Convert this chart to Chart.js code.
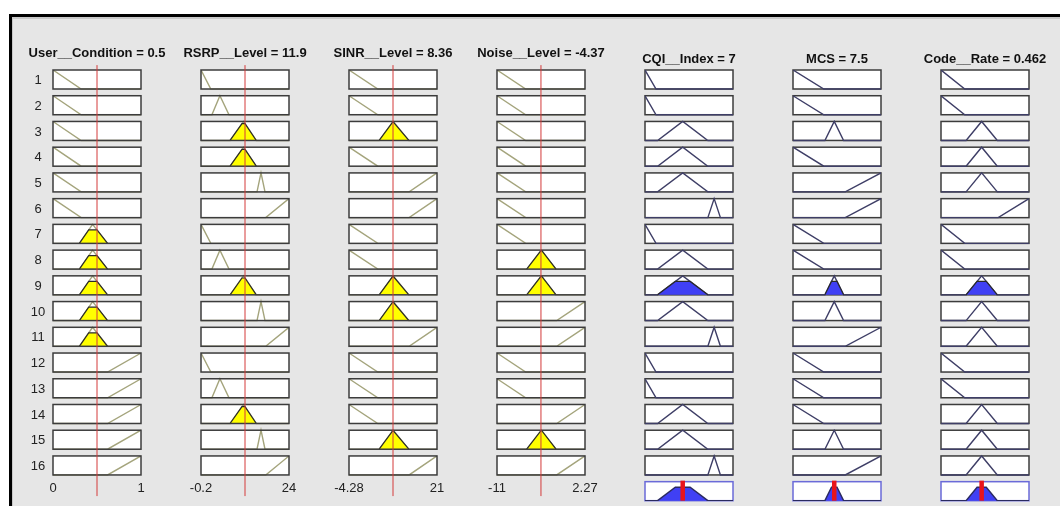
<!DOCTYPE html>
<html>
<head>
<meta charset="utf-8">
<script src="https://cdn.jsdelivr.net/npm/chart.js@4.4.0/dist/chart.umd.min.js"></script>
<style>
html, body { margin: 0; padding: 0; background: #fff; width: 1060px; height: 506px; overflow: hidden; }
#frame { position: absolute; left: 9px; top: 14px; width: 1060px; height: 500px;
  border-left: 3px solid #000; border-top: 3px solid #000; background: #e6e6e6;
  box-shadow: inset 1px 2px 0 #c8c8c8; }
canvas { position: absolute; }
</style>
</head>
<body>
<div id="frame"></div>
<div id="wrap"></div>
<script>
// variables: names, ranges, current crisp values
const varNames = ['User__Condition', 'RSRP__Level', 'SINR__Level', 'Noise__Level', 'CQI__Index', 'MCS', 'Code__Rate'];
const varRanges = [[0, 1], [-0.2, 24], [-4.28, 21], [-11, 2.27], [1, 15], [0, 16], [0, 1]];
const varValues = [0.5, 11.9, 8.36, -4.37, 7, 7.5, 0.462];
const rangeLabels = [['0', '1'], ['-0.2', '24'], ['-4.28', '21'], ['-11', '2.27']];

// triangular membership functions [a, b, c]
const userMFs  = [[0, 0, 0.32], [0.3, 0.45, 0.62], [0.62, 1, 1]];
const rsrpMFs  = [[-0.2, -0.2, 2.5], [2.8, 5, 7.5], [7.8, 11.5, 15], [15.2, 16.3, 17.4], [17.6, 24, 24]];
const sinrMFs  = [[-4.28, -4.28, 4], [4.4, 8.4, 12.9], [13, 21, 21]];
const noiseMFs = [[-11, -11, -6.67], [-6.52, -4.31, -2.1], [-2, 2.27, 2.27]];
const cqiMFs   = [[1, 1, 2.75], [3, 7, 11], [11, 12, 13]];
const mcsMFs   = [[0, 0, 5.6], [5.8, 7.5, 9.2], [9.5, 16, 16]];
const rateMFs  = [[0, 0, 0.27], [0.285, 0.462, 0.64], [0.65, 1, 1]];

// rule base: which MF each of the 16 rules uses (1-based)
const ruleUser  = [1, 1, 1, 1, 1, 1, 2, 2, 2, 2, 2, 3, 3, 3, 3, 3];
const ruleRsrp  = [1, 2, 3, 3, 4, 5, 1, 2, 3, 4, 5, 1, 2, 3, 4, 5];
const ruleSinr  = [1, 1, 2, 1, 3, 3, 1, 1, 2, 2, 3, 1, 1, 1, 2, 3];
const ruleNoise = [1, 1, 1, 1, 1, 1, 1, 2, 2, 3, 3, 1, 1, 3, 2, 3];
const ruleCqi   = [1, 1, 2, 2, 2, 3, 1, 2, 2, 2, 3, 1, 1, 2, 2, 3];
const ruleMcs   = [1, 1, 2, 1, 3, 3, 1, 1, 2, 2, 3, 1, 1, 1, 2, 3];
const ruleRate  = [1, 1, 2, 2, 2, 3, 1, 1, 2, 2, 2, 1, 1, 2, 2, 2];

const allMFs = [userMFs, rsrpMFs, sinrMFs, noiseMFs, cqiMFs, mcsMFs, rateMFs];
const allRules = [ruleUser, ruleRsrp, ruleSinr, ruleNoise, ruleCqi, ruleMcs, ruleRate];

// layout
const ROW_PX = 25.73, BOX_H = 19 / ROW_PX, Y_MAX = 16.75;
const COL_X0 = 53, COL_STEP = 148, BOX_W = 88, PAD_X = 40;
const CANVAS_TOP = 30, AREA_TOP = 70;
const FONT = '"Liberation Sans", Arial, sans-serif';
const OLIVE = '#a4a47c', NAVY = '#3e3e66', YELLOW = '#ffff00', BLUE = '#4040f4';

function mu(p, x) {
  const [a, b, c] = p;
  if (x < a || x > c) return 0;
  if (x <= b) return b === a ? 1 : (x - a) / (b - a);
  return c === b ? 1 : (c - x) / (c - b);
}

function mfCurve(p, xmin, xmax) {
  const [a, b, c] = p;
  const pts = [];
  if (a > xmin) pts.push([xmin, 0]);
  pts.push([a, a === b ? 1 : 0], [b, 1], [c, c === b ? 1 : 0]);
  if (c < xmax) pts.push([xmax, 0]);
  return pts;
}

function clipped(p, lv) {
  const [a, b, c] = p;
  return [[a, 0], [a + lv * (b - a), lv], [c - lv * (c - b), lv], [c, 0]];
}

// firing strength of each rule (min of antecedents)
const firing = ruleUser.map((_, r) =>
  Math.min(...[0, 1, 2, 3].map(i => mu(allMFs[i][allRules[i][r] - 1], varValues[i]))));

function colPlugin(ci) {
  const isInput = ci < 4;
  const rows = isInput ? 16 : 17;
  return {
    id: 'col' + ci,
    beforeDatasetsDraw(chart) {
      const { ctx, scales: { x, y } } = chart;
      const [xmin, xmax] = varRanges[ci];
      for (let r = 0; r < rows; r++) {
        const l = x.getPixelForValue(xmin), rr = x.getPixelForValue(xmax);
        const t = y.getPixelForValue(r), b = y.getPixelForValue(r + BOX_H);
        ctx.fillStyle = '#fff';
        ctx.fillRect(l, t, rr - l, b - t);
        if (!isInput) {
          ctx.strokeStyle = r === 16 ? '#6a6ad8' : '#3c3c3c';
          ctx.lineWidth = 1.5;
          ctx.strokeRect(l, t, rr - l, b - t);
        }
      }
    },
    afterDatasetsDraw(chart) {
      const { ctx, chartArea, scales: { x, y } } = chart;
      const [xmin, xmax] = varRanges[ci];
      const l = x.getPixelForValue(xmin), rr = x.getPixelForValue(xmax);
      if (isInput) {
        ctx.strokeStyle = '#3c3c3c';
        ctx.lineWidth = 1.5;
        for (let r = 0; r < 16; r++) {
          const t = y.getPixelForValue(r), b = y.getPixelForValue(r + BOX_H);
          ctx.strokeRect(l, t, rr - l, b - t);
        }
        const vx = x.getPixelForValue(varValues[ci]);
        ctx.strokeStyle = '#d43a3a';
        ctx.lineWidth = 1;
        ctx.beginPath();
        ctx.moveTo(vx, y.getPixelForValue(-0.19));
        ctx.lineTo(vx, y.getPixelForValue(16.56));
        ctx.stroke();
        ctx.fillStyle = '#222';
        ctx.font = '13px ' + FONT;
        ctx.textAlign = 'center';
        ctx.textBaseline = 'middle';
        const ly = y.getPixelForValue(16.28);
        ctx.fillText(rangeLabels[ci][0], l, ly);
        ctx.fillText(rangeLabels[ci][1], rr, ly);
      } else {
        const vx = x.getPixelForValue(varValues[ci]);
        ctx.strokeStyle = '#e8141c';
        ctx.lineWidth = 4.5;
        ctx.beginPath();
        ctx.moveTo(vx, y.getPixelForValue(15.96));
        ctx.lineTo(vx, y.getPixelForValue(16 + BOX_H));
        ctx.stroke();
      }
      if (ci === 0) {
        ctx.fillStyle = '#222';
        ctx.font = '13px ' + FONT;
        ctx.textAlign = 'center';
        ctx.textBaseline = 'middle';
        for (let r = 0; r < 16; r++) {
          ctx.fillText(String(r + 1), chartArea.left - 15, y.getPixelForValue(r + BOX_H / 2) + 1);
        }
      }
      ctx.fillStyle = '#111';
      ctx.font = 'bold 13px ' + FONT;
      ctx.textAlign = 'center';
      ctx.textBaseline = 'alphabetic';
      const title = varNames[ci] + ' = ' + varValues[ci];
      ctx.fillText(title, (chartArea.left + chartArea.right) / 2, (isInput ? 57 : 62.5) - CANVAS_TOP);
    }
  };
}

function buildColumn(ci) {
  const isInput = ci < 4;
  const mfs = allMFs[ci], rule = allRules[ci];
  const [xmin, xmax] = varRanges[ci];
  const datasets = [];
  const toPts = (pts, r) => pts.map(([px, u]) => ({ x: px, y: r + (1 - u) * BOX_H }));

  rule.forEach((m, r) => {
    const p = mfs[m - 1];
    datasets.push({ data: toPts(mfCurve(p, xmin, xmax), r), borderColor: isInput ? OLIVE : NAVY,
      borderWidth: 1.4, fill: false, order: 2 });
    const lv = isInput ? mu(p, varValues[ci]) : firing[r];
    if (lv > 0) {
      datasets.push({ data: toPts(clipped(p, lv), r), borderColor: '#2a2a2a', borderWidth: 1.2,
        backgroundColor: isInput ? YELLOW : BLUE, fill: { value: r + BOX_H }, order: 1 });
    }
  });

  if (!isInput) {
    // aggregated output: max of clipped consequents
    const xs = [xmin, xmax];
    rule.forEach((m, r) => {
      if (firing[r] > 0) clipped(mfs[m - 1], firing[r]).forEach(([px]) => xs.push(px));
    });
    const ux = [...new Set(xs)].sort((a, b) => a - b);
    const agg = ux.map(px => [px, Math.max(0, ...rule.map((m, r) => Math.min(firing[r], mu(mfs[m - 1], px))))]);
    datasets.push({ data: toPts(agg, 16), borderColor: '#2a2a60', borderWidth: 1.4,
      backgroundColor: BLUE, fill: { value: 16 + BOX_H }, order: 0 });
  }

  const cv = document.createElement('canvas');
  const W = BOX_W + 2 * PAD_X, H = 506 - CANVAS_TOP;
  cv.width = W; cv.height = H;
  cv.style.left = (COL_X0 + COL_STEP * ci - PAD_X) + 'px';
  cv.style.top = CANVAS_TOP + 'px';
  cv.style.width = W + 'px'; cv.style.height = H + 'px';
  document.getElementById('wrap').appendChild(cv);

  const areaH = Y_MAX * ROW_PX;
  new Chart(cv, {
    type: 'line',
    data: { datasets },
    options: {
      responsive: false,
      animation: false,
      devicePixelRatio: 1,
      layout: { padding: { left: PAD_X, right: PAD_X, top: AREA_TOP - CANVAS_TOP, bottom: H - (AREA_TOP - CANVAS_TOP) - areaH } },
      elements: { point: { radius: 0 }, line: { tension: 0 } },
      plugins: { legend: { display: false }, tooltip: { enabled: false } },
      scales: {
        x: { type: 'linear', min: xmin, max: xmax, display: false },
        y: { type: 'linear', min: 0, max: Y_MAX, reverse: true, display: false }
      }
    },
    plugins: [colPlugin(ci)]
  });
}

for (let ci = 0; ci < 7; ci++) buildColumn(ci);
</script>
</body>
</html>
